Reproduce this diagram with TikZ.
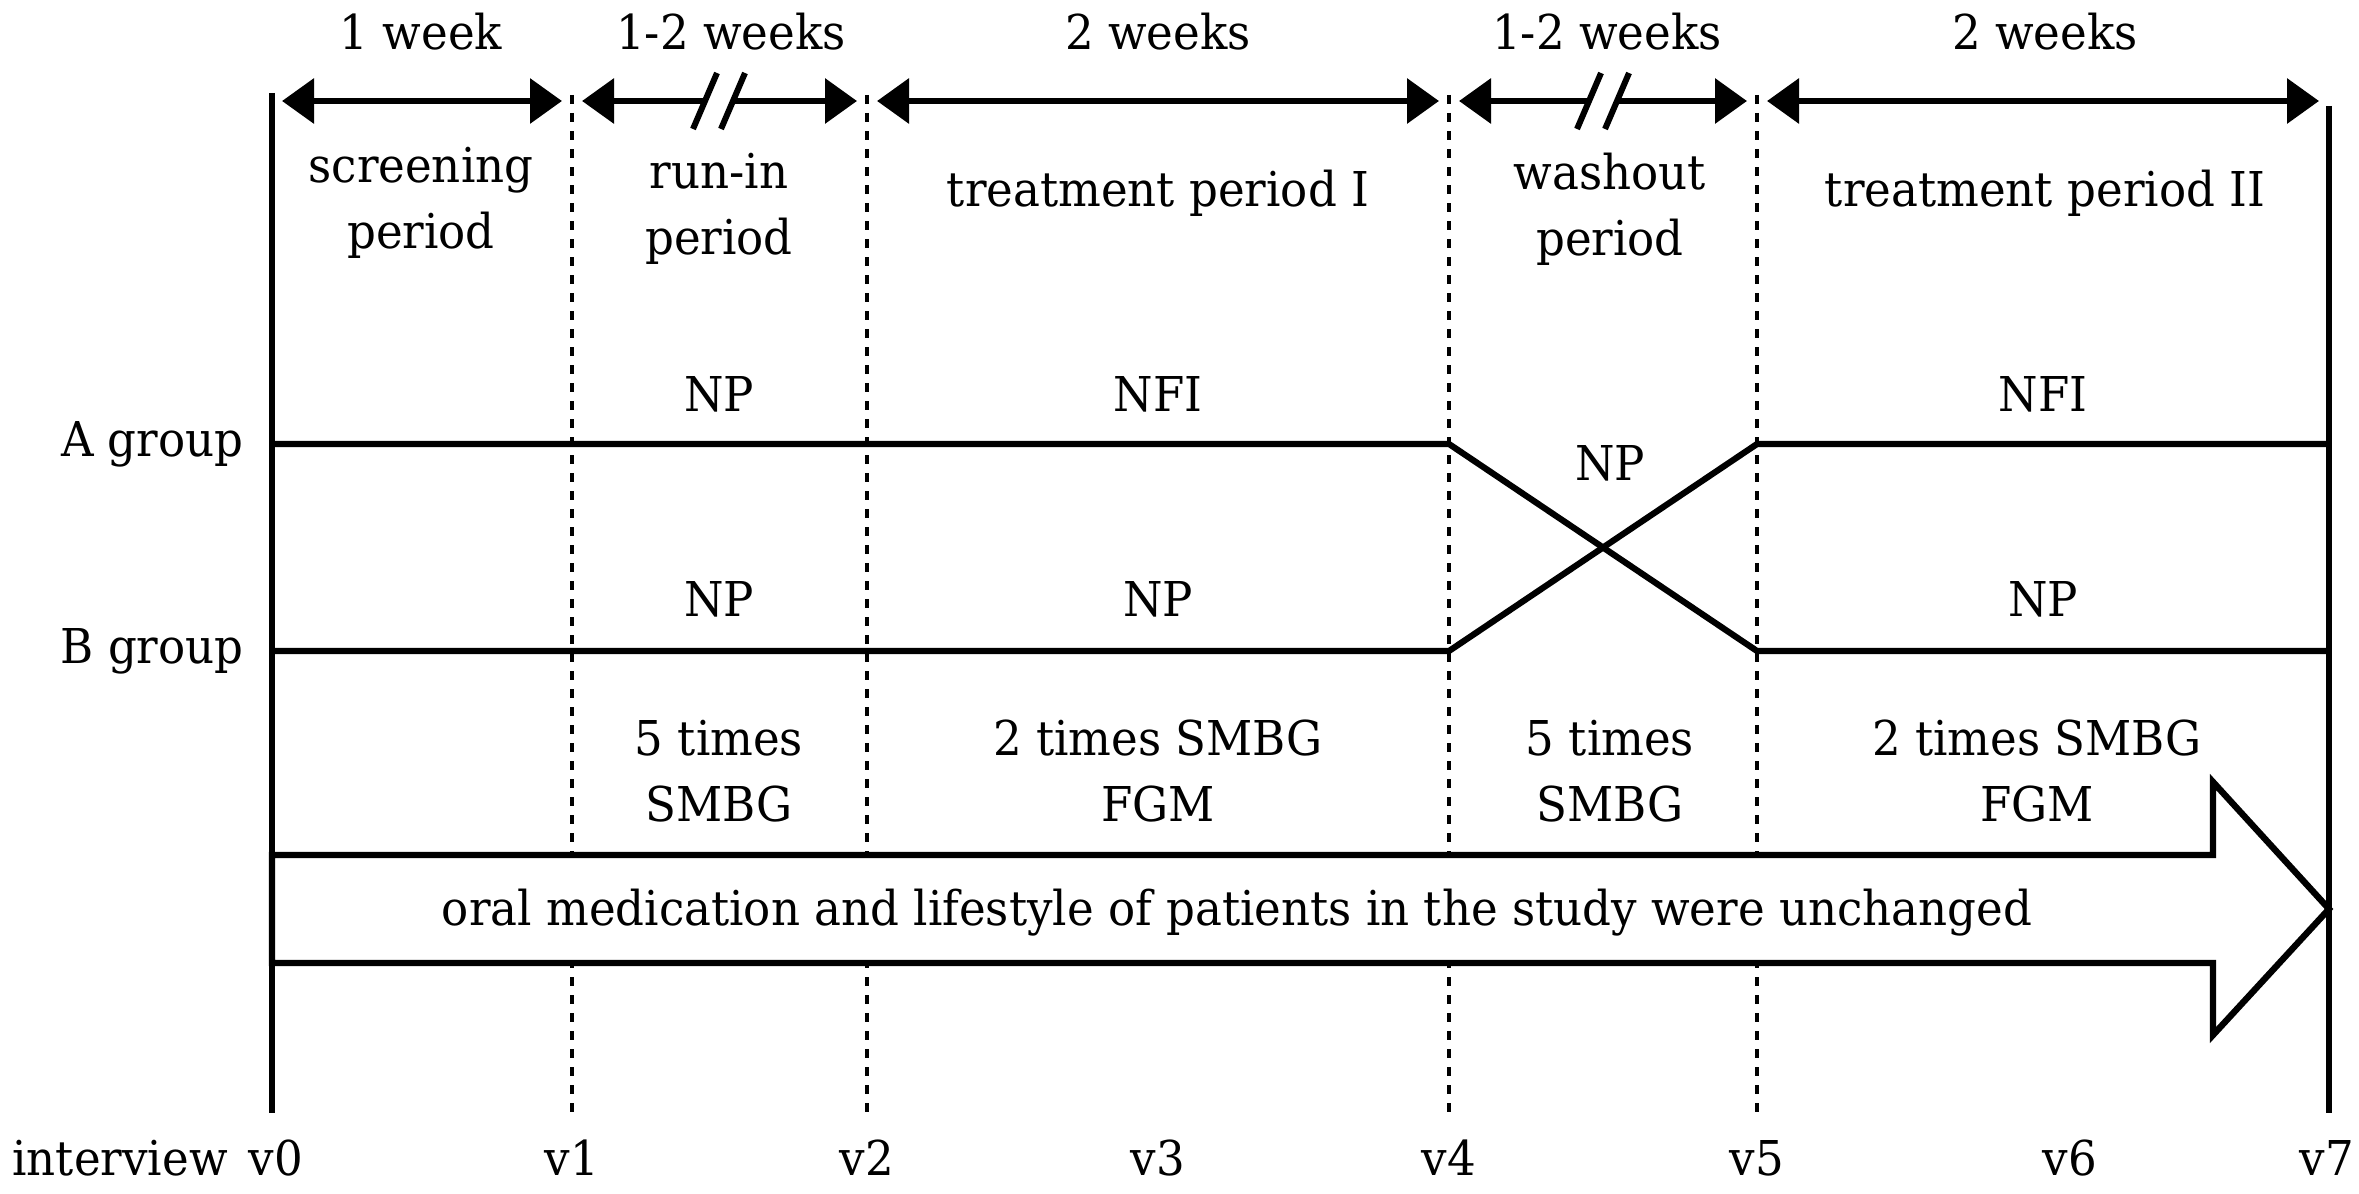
\documentclass[tikz,border=0pt]{standalone}
\usepackage{fontspec}
\setmainfont{DejaVu Serif}[FakeStretch=0.94]
\usetikzlibrary{arrows.meta}
\begin{document}
\begin{tikzpicture}[x=0.5pt,y=-0.5pt,
  lbl/.style={font=\fontsize{24}{33}\selectfont, inner sep=0pt, align=center},
  mainline/.style={line width=2.8pt},
  grpline/.style={line width=3.1pt},
  dotline/.style={line width=2.4pt, dash pattern=on 4.5pt off 4.5pt},
  dur/.style={line width=3.2pt},
  durboth/.style={dur, {Triangle[length=16pt,width=22pt]}-{Triangle[length=16pt,width=22pt]}},
  durleft/.style={dur, {Triangle[length=16pt,width=22pt]}-},
  durright/.style={dur, -{Triangle[length=16pt,width=22pt]}},
  slash/.style={line width=3pt},
  bigarrow/.style={line width=3.2pt, fill=white, line join=miter}
]
\useasboundingbox (0,0) rectangle (2359,1193);

% vertical time lines
\coordinate (t0) at (272,93);   \coordinate (b0) at (272,1113);
\coordinate (t1) at (572,95);   \coordinate (b1) at (572,1113);
\coordinate (t2) at (867,95);   \coordinate (b2) at (867,1113);
\coordinate (t4) at (1449,95);  \coordinate (b4) at (1449,1113);
\coordinate (t5) at (1757,95);  \coordinate (b5) at (1757,1113);
\coordinate (t7) at (2329,106); \coordinate (b7) at (2329,1113);
\draw[mainline] (t0) -- (b0);
\draw[mainline] (t7) -- (b7);
\foreach \i in {1,2,4,5} \draw[dotline] (t\i) -- (b\i);

% duration arrows
\coordinate (r0) at (272,101);
\coordinate (r1) at (572,101);
\coordinate (r2) at (867,101);
\coordinate (r4) at (1449,101);
\coordinate (r5) at (1757,101);
\coordinate (r7) at (2329,101);
\coordinate (ba1) at (705,101); \coordinate (bb1) at (733,101);
\coordinate (ba2) at (1589,101); \coordinate (bb2) at (1617,101);
\draw[durboth] ([xshift=5pt]r0) -- ([xshift=-5pt]r1);
\draw[durleft] ([xshift=5pt]r1) -- (ba1);
\draw[durright] (bb1) -- ([xshift=-5pt]r2);
\draw[durboth] ([xshift=5pt]r2) -- ([xshift=-5pt]r4);
\draw[durleft] ([xshift=5pt]r4) -- (ba2);
\draw[durright] (bb2) -- ([xshift=-5pt]r5);
\draw[durboth] ([xshift=5pt]r5) -- ([xshift=-5pt]r7);
\coordinate (s1a) at (693,129); \coordinate (s1b) at (717,73);
\coordinate (s2a) at (721,129); \coordinate (s2b) at (745,73);
\coordinate (s3a) at (1577,129); \coordinate (s3b) at (1601,73);
\coordinate (s4a) at (1605,129); \coordinate (s4b) at (1629,73);
\draw[slash] (s1a) -- (s1b);
\draw[slash] (s2a) -- (s2b);
\draw[slash] (s3a) -- (s3b);
\draw[slash] (s4a) -- (s4b);

% duration labels
\node[lbl] (d1) at (421,32) {1 week};
\node[lbl] (d2) at (731,32) {1-2 weeks};
\node[lbl] (d3) at (1158,32) {2 weeks};
\node[lbl] (d4) at (1607,32) {1-2 weeks};
\node[lbl] (d5) at (2045,32) {2 weeks};

% period labels
\node[lbl] (p1) at (421,203) {screening\\period};
\node[lbl] (p2) at (719,209) {run-in\\period};
\node[lbl] (p3) at (1158,193) {treatment period I};
\node[lbl] (p4) at (1610,209) {washout\\period};
\node[lbl] (p5) at (2045,193) {treatment period II};

% groups
\coordinate (a0) at (272,444); \coordinate (a4) at (1449,444);
\coordinate (a5) at (1757,444); \coordinate (a7) at (2329,444);
\coordinate (g0) at (272,651); \coordinate (g4) at (1449,651);
\coordinate (g5) at (1757,651); \coordinate (g7) at (2329,651);
\draw[grpline] (a0) -- (a4) -- (g5) -- (g7);
\draw[grpline] (g0) -- (g4) -- (a5) -- (a7);
\node[lbl, anchor=east] (ga) at (244,444) {A group};
\node[lbl, anchor=east] (gb) at (244,651) {B group};

\node[lbl] (n1) at (719,394) {NP};
\node[lbl] (n2) at (1158,394) {NFI};
\node[lbl] (n3) at (2043,394) {NFI};
\node[lbl] (n4) at (1610,463) {NP};
\node[lbl] (n5) at (719,599) {NP};
\node[lbl] (n6) at (1158,599) {NP};
\node[lbl] (n7) at (2043,599) {NP};

\node[lbl] (m1) at (719,771) {5 times\\SMBG};
\node[lbl] (m2) at (1158,771) {2 times SMBG\\FGM};
\node[lbl] (m3) at (1610,771) {5 times\\SMBG};
\node[lbl] (m4) at (2037,771) {2 times SMBG\\FGM};

% big arrow
\coordinate (h1) at (272,855); \coordinate (h2) at (2213,855);
\coordinate (h3) at (2213,782); \coordinate (h4) at (2329,909);
\coordinate (h5) at (2213,1035); \coordinate (h6) at (2213,963);
\coordinate (h7) at (272,963);
\draw[bigarrow] (h1) -- (h2) -- (h3) -- (h4) -- (h5) -- (h6) -- (h7) -- cycle;
\node[lbl] (ar) at (1237,913) {oral medication and lifestyle of patients in the study were unchanged};

% interview labels
\node[lbl, anchor=east] (iv) at (228,1158) {interview};
\node[lbl] (v0) at (276,1158) {v0};
\node[lbl] (v1) at (572,1158) {v1};
\node[lbl] (v2) at (867,1158) {v2};
\node[lbl] (v3) at (1158,1158) {v3};
\node[lbl] (v4) at (1449,1158) {v4};
\node[lbl] (v5) at (1757,1158) {v5};
\node[lbl] (v6) at (2070,1158) {v6};
\node[lbl] (v7) at (2327,1158) {v7};
\end{tikzpicture}
\end{document}
